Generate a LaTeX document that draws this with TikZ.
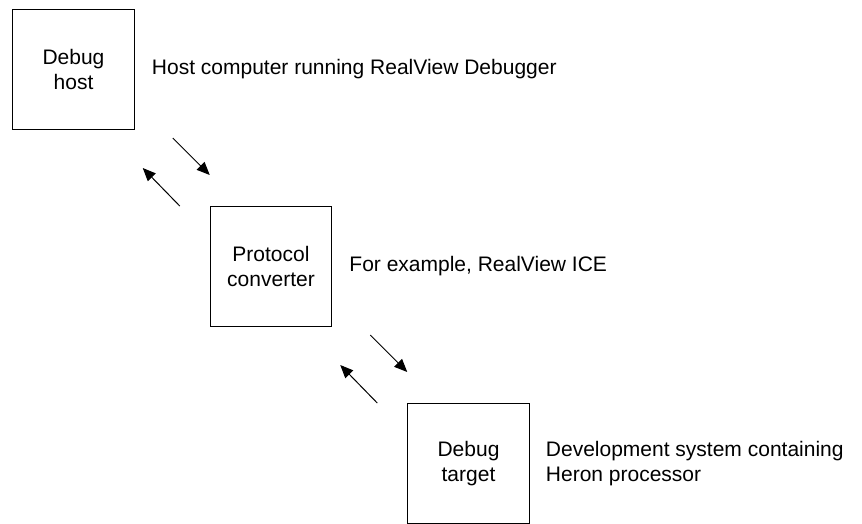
\documentclass[tikz,border=0pt]{standalone}
\usepackage{fontspec}
\setmainfont{Liberation Sans}
\usetikzlibrary{arrows.meta, positioning, calc}

\begin{document}
\begin{tikzpicture}[font=\fontsize{21}{25}\selectfont,
    box/.style={draw, line width=1pt, minimum width=121.5pt, minimum height=120pt, inner sep=0pt, align=center},
    note/.style={align=left, inner sep=0pt},
    arr/.style={-{Triangle[length=13pt, width=11pt]}, line width=1pt}]
  \useasboundingbox (0,0) rectangle (862pt,-523pt);
  % boxes
  \node[box] (host) at (73.5pt,-69.5pt) {Debug\\host};
  \node[box, below right=76pt and 75pt of host] (conv) {Protocol\\converter};
  \node[box, below right=76pt and 75pt of conv] (target) {Debug\\target};
  % descriptions
  \node[note, right=17pt of host] (hostnote) {Host computer running RealView Debugger};
  \node[note, right=17pt of conv] (convnote) {For example, RealView ICE};
  \node[note, right=16pt of target] (targetnote) {Development system containing\\Heron processor};
  % arrows
  \draw[arr] ([shift={(38pt,-8pt)}]host.south east) -- ([shift={(0pt,31pt)}]conv.north west);
  \draw[arr] ([shift={(-30pt,0pt)}]conv.north west) -- ([shift={(8pt,-38pt)}]host.south east);
  \draw[arr] ([shift={(38pt,-8pt)}]conv.south east) -- ([shift={(0pt,31pt)}]target.north west);
  \draw[arr] ([shift={(-30pt,0pt)}]target.north west) -- ([shift={(8pt,-38pt)}]conv.south east);
\end{tikzpicture}
\end{document}
